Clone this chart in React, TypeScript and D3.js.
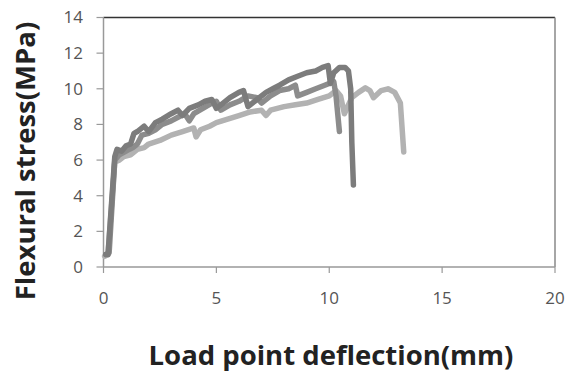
import React from "react";
import * as d3 from "d3";

const xTicks = [0, 5, 10, 15, 20];
const yTicks = [0, 2, 4, 6, 8, 10, 12, 14];

const seriesA: [number, number][] = [
  [0.1, 0.7], [0.2, 0.7], [0.5, 6.2], [0.6, 6.6], [0.8, 6.5], [1.0, 6.8], [1.2, 6.9], [1.35, 7.5],
  [1.5, 7.6], [1.8, 7.9], [2.0, 7.6], [2.3, 8.1], [2.6, 8.3], [3.0, 8.6], [3.3, 8.8], [3.5, 8.5],
  [3.8, 8.9], [4.2, 9.1], [4.5, 9.3], [4.8, 9.4], [5.0, 8.9], [5.3, 9.2], [5.6, 9.5], [6.0, 9.8],
  [6.2, 9.9], [6.4, 9.0], [6.8, 9.4], [7.2, 9.8], [7.5, 10.0], [7.8, 10.2], [8.2, 10.5],
  [8.6, 10.7], [9.0, 10.9], [9.4, 11.0], [9.7, 11.2], [9.95, 11.3], [10.05, 10.3], [10.2, 10.9],
  [10.45, 11.2], [10.7, 11.2], [10.85, 11.0], [10.95, 10.0], [11.0, 7.0], [11.07, 4.6],
];

const seriesB: [number, number][] = [
  [0.1, 0.7], [0.25, 0.8], [0.5, 6.0], [0.7, 6.3], [1.0, 6.5], [1.3, 6.7], [1.5, 6.9], [1.7, 7.4],
  [2.0, 7.5], [2.3, 7.7], [2.6, 8.0], [3.0, 8.2], [3.3, 8.4], [3.6, 8.6], [3.8, 8.2], [4.0, 8.6],
  [4.4, 8.9], [4.8, 9.2], [5.0, 9.3], [5.2, 8.8], [5.6, 9.1], [6.0, 9.3], [6.4, 9.6], [6.8, 9.5],
  [7.0, 9.2], [7.4, 9.6], [7.8, 9.9], [8.2, 10.0], [8.5, 10.2], [8.6, 9.6], [9.0, 9.8],
  [9.4, 10.0], [9.8, 10.2], [10.2, 10.4], [10.3, 9.6], [10.45, 7.6],
];

const seriesC: [number, number][] = [
  [0.05, 0.6], [0.2, 0.7], [0.5, 5.9], [0.7, 6.0], [0.9, 6.2], [1.2, 6.3], [1.5, 6.6], [1.8, 6.7],
  [2.0, 6.9], [2.5, 7.1], [3.0, 7.4], [3.5, 7.6], [4.0, 7.8], [4.1, 7.3], [4.3, 7.7], [4.7, 7.9],
  [5.0, 8.1], [5.5, 8.3], [6.0, 8.5], [6.5, 8.7], [7.0, 8.8], [7.2, 8.5], [7.4, 8.8], [8.0, 9.0],
  [8.5, 9.1], [9.0, 9.2], [9.5, 9.4], [10.0, 9.6], [10.3, 9.9], [10.5, 9.6], [10.67, 8.6],
  [11.0, 9.5], [11.3, 9.8], [11.6, 10.05], [11.8, 9.9], [11.96, 9.5], [12.3, 9.9], [12.6, 10.0],
  [12.9, 9.8], [13.15, 9.2], [13.3, 6.45],
];

const series = [
  { name: "C", data: seriesC, color: "#b2b2b2" },
  { name: "B", data: seriesB, color: "#8c8c8c" },
  { name: "A", data: seriesA, color: "#7c7c7c" },
];

export default function App() {
  const W = 569, H = 379;
  const left = 103.5, right = 555, top = 17.5, bottom = 267;
  const x = d3.scaleLinear().domain([0, 20]).range([left, right]);
  const y = d3.scaleLinear().domain([0, 14]).range([bottom, top]);
  const line = d3.line<[number, number]>().x(d => x(d[0])).y(d => y(d[1])).curve(d3.curveLinear);
  const font = "'Open Sans', 'Liberation Sans', sans-serif";
  return (
    <svg width={W} height={H} style={{ position: "absolute", left: 0, top: 0, background: "#fff" }}>
      <rect x={0} y={0} width={W} height={H} fill="#fff" />
      <line x1={left} x2={right} y1={top} y2={top} stroke="#333" strokeWidth={1.5} />
      <line x1={right} x2={right} y1={top} y2={bottom} stroke="#888" strokeWidth={1.5} />
      <line x1={left} x2={right} y1={bottom} y2={bottom} stroke="#999" strokeWidth={1.5} />
      <line x1={left} x2={left} y1={top} y2={bottom} stroke="#999" strokeWidth={1.5} />
      {yTicks.map(t => (
        <g key={"y" + t}>
          <line x1={left - 7} x2={left} y1={y(t)} y2={y(t)} stroke="#999" strokeWidth={1.2} />
          <text x={83} y={y(t)} dy="0.35em" textAnchor="end" fontFamily={font} fontSize={17} fill="#555">{t}</text>
        </g>
      ))}
      {xTicks.map(t => (
        <g key={"x" + t}>
          <line x1={x(t)} x2={x(t)} y1={bottom} y2={bottom + 6} stroke="#999" strokeWidth={1.2} />
          <text x={x(t)} y={298} dy="0.35em" textAnchor="middle" fontFamily={font} fontSize={17} fill="#555">{t}</text>
        </g>
      ))}
      {series.map(s => (
        <path key={s.name} d={line(s.data) || ""} fill="none" stroke={s.color} strokeWidth={5.5}
          strokeLinejoin="round" strokeLinecap="round" />
      ))}
      <text x={331} y={355} dy="0.35em" textAnchor="middle" fontFamily={font} fontWeight="bold" fontSize={27.5} fill="#222">Load point deflection(mm)</text>
      <text transform={`translate(25,161) rotate(-90)`} textAnchor="middle" dy="0.35em" fontFamily={font} fontWeight="bold" fontSize={27.5} fill="#222">Flexural stress(MPa)</text>
    </svg>
  );
}
